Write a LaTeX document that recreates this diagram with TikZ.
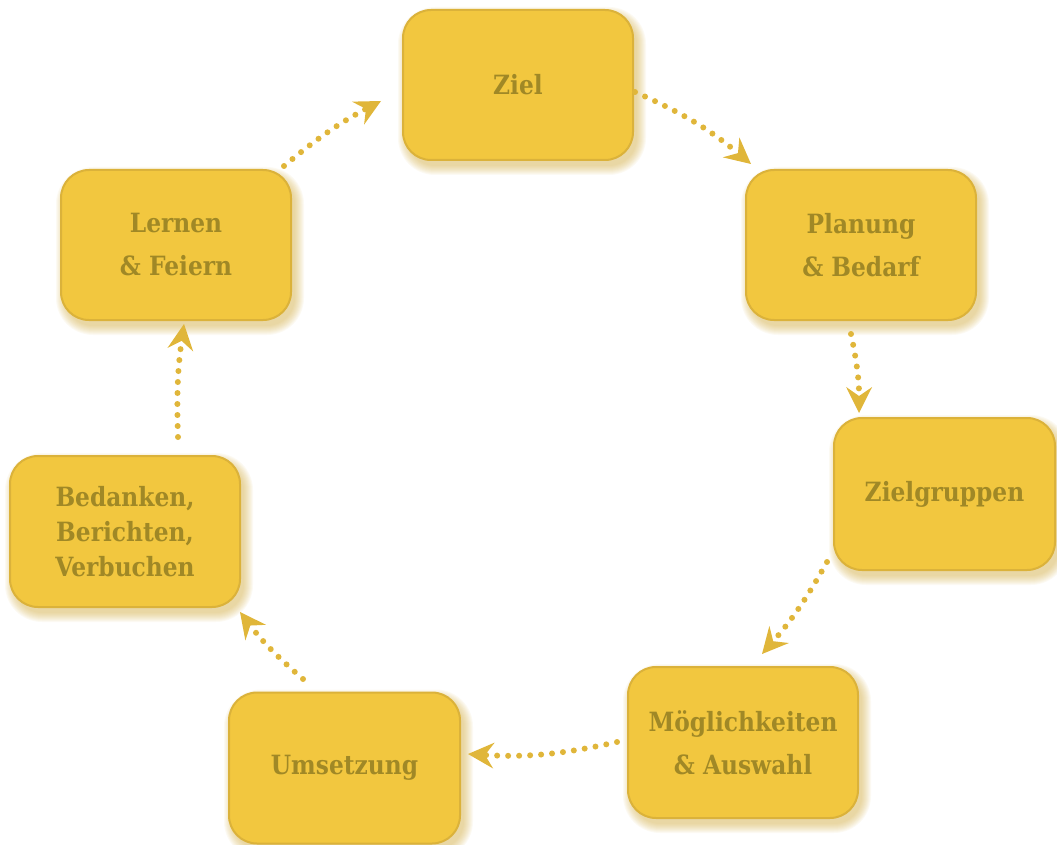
\documentclass[tikz,border=0pt]{standalone}
\usepackage{fontspec}
\setmainfont{DejaVu Serif}[FakeStretch=0.88]
\usetikzlibrary{arrows.meta,calc}
\definecolor{boxfill}{HTML}{F2C73F}
\definecolor{boxedge}{HTML}{DBB23A}
\definecolor{textcol}{HTML}{A08826}
\definecolor{arrowcol}{HTML}{E0B63A}
\definecolor{shadowcol}{HTML}{CFA737}
\tikzset{
  stepbox/.style={rectangle, rounded corners=28pt, fill=boxfill, draw=boxedge, line width=2pt,
    text=textcol, font=\bfseries\fontsize{26.5}{43}\selectfont, align=center,
    minimum width=230pt, minimum height=150pt, inner sep=0pt},
  conn/.style={draw=arrowcol, line width=6pt, line cap=round, dash pattern=on 0pt off 11pt,
    -{Stealth[length=26pt,width=26pt,inset=9pt,line width=0pt,fill=arrowcol]}}
}
% soft shadow: center x, center y, width, height
\newcommand\softshade[4]{%
  \foreach \i in {0,1,...,9}{%
    \fill[shadowcol, opacity=0.06, rounded corners={28pt+\i pt}]
      ({#1-#3/2-\i+4}, {#2-#4/2-\i-6}) rectangle ({#1+#3/2+\i+4}, {#2+#4/2+\i-6});
  }%
}
\begin{document}
\begin{tikzpicture}[x=1pt,y=1pt]
\useasboundingbox (0,-845) rectangle (1057,0);
% shadows
\softshade{518}{-85}{230}{150}
\softshade{861}{-245}{230}{150}
\softshade{944.5}{-494}{221}{152}
\softshade{743}{-742.5}{230}{151}
\softshade{344.5}{-768}{231}{151}
\softshade{125}{-531.5}{230}{151}
\softshade{176}{-245}{230}{150}
% boxes
\node[stepbox] (ziel) at (518,-85) {Ziel};
\node[stepbox] (plan) at (861,-245) {Planung\\\& Bedarf};
\node[stepbox, minimum width=221pt, minimum height=152pt] (grup) at (944.5,-494) {Zielgruppen};
\node[stepbox, minimum height=151pt] (moeg) at (743,-742.5) {Möglichkeiten\\\& Auswahl};
\node[stepbox, minimum width=231pt, minimum height=151pt] (umse) at (344.5,-768) {Umsetzung};
\node[stepbox, minimum height=151pt, font=\bfseries\fontsize{26.5}{35}\selectfont] (bedk) at (125,-531.5) {Bedanken,\\Berichten,\\Verbuchen};
\node[stepbox] (lern) at (176,-245) {Lernen\\\& Feiern};
% connector end points
\coordinate (a1s) at (635,-92);  \coordinate (a1e) at (751,-164);
\coordinate (a2s) at (851,-334); \coordinate (a2e) at (859,-413);
\coordinate (a3s) at (827,-562); \coordinate (a3e) at (762,-654);
\coordinate (a4s) at (617,-742); \coordinate (a4e) at (468,-754);
\coordinate (a5s) at (303,-679); \coordinate (a5e) at (240,-612);
\coordinate (a6s) at (178,-437); \coordinate (a6e) at (184,-324);
\coordinate (a7s) at (284,-166); \coordinate (a7e) at (381,-101);
% connectors
\draw[conn] (a1s) to[bend left=8] (a1e);
\draw[conn] (a2s) to[bend left=6] (a2e);
\draw[conn] (a3s) to[bend left=6] (a3e);
\draw[conn] (a4s) to[bend left=8] (a4e);
\draw[conn] (a5s) to[bend left=6] (a5e);
\draw[conn] (a6s) to[bend left=5] (a6e);
\draw[conn] (a7s) to[bend left=6] (a7e);
\end{tikzpicture}
\end{document}
